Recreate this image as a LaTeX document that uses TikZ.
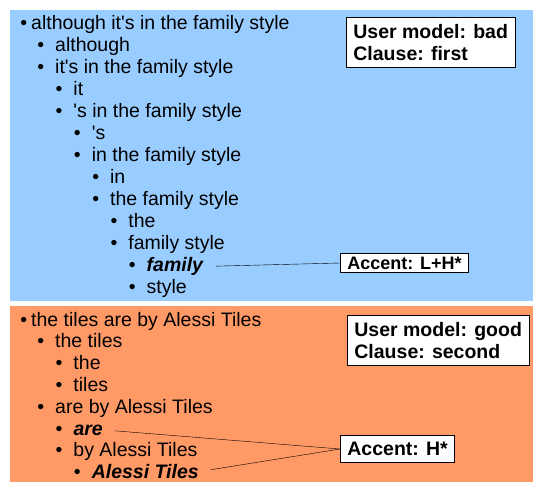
\documentclass[tikz,border=0pt]{standalone}
\usepackage{fontspec}
\setmainfont{Liberation Sans}
\usetikzlibrary{positioning}
\definecolor{skyblue}{RGB}{153,204,255}
\definecolor{salmon}{RGB}{255,153,102}
\begin{document}
\begin{tikzpicture}[x=1pt, y=-1pt, font=\fontsize{19.5}{22}\selectfont, item/.style={anchor=base west, inner sep=0pt}, note/.style={draw, fill=white, line width=0.8pt, font=\fontsize{19.5}{22}\selectfont\bfseries, align=left, inner xsep=7pt, inner ysep=6pt}]
\useasboundingbox (0,0) rectangle (533,482);
\fill[skyblue] (10,10) rectangle (533,301);
\fill[salmon] (10,306) rectangle (533,482);
\foreach \lev/\txt [count=\i from 0] in {0/although it\textquotesingle s in the family style, 1/although, 1/it\textquotesingle s in the family style, 2/it, 2/\textquotesingle s in the family style, 3/\textquotesingle s, 3/in the family style, 4/in, 4/the family style, 5/the, 5/family style, 6/\textbf{\textit{family}}, 6/style}{\pgfmathsetmacro\tx{\lev==0 ? 31 : 36.7+18.3*\lev}\pgfmathsetmacro\gap{\lev==0 ? 4 : 11}\node[item] (t\i) at (\tx,29.5+22*\i) {\llap{\textbullet\hskip\gap pt}\txt};}
\foreach \lev/\txt [count=\i from 0] in {0/the tiles are by Alessi Tiles, 1/the tiles, 2/the, 2/tiles, 1/are by Alessi Tiles, 2/\textbf{\textit{are}}, 2/by Alessi Tiles, 3/\textbf{\textit{Alessi Tiles}}}{\pgfmathsetmacro\tx{\lev==0 ? 31 : 36.7+18.3*\lev}\pgfmathsetmacro\gap{\lev==0 ? 4 : 11}\node[item] (b\i) at (\tx,326+21.8*\i) {\llap{\textbullet\hskip\gap pt}\txt};}
\node[note, anchor=north west, inner ysep=7pt] (userA) at (346,17) {User model: bad\\Clause: first};
\node[note, anchor=north west, inner ysep=7pt] (userB) at (347,315) {User model: good\\Clause: second};
\node[note, anchor=west, font=\fontsize{18}{20}\selectfont\bfseries, inner ysep=3pt] (accA) at (340,263) {Accent: L+H*};
\node[note, anchor=west, inner ysep=7pt] (accB) at (340,449) {Accent: H*};
\draw[shorten <=12pt] (t11.east) -- (accA.west);
\draw[shorten <=12pt] (b5.east) -- (accB.west);
\draw[shorten <=12pt] (b7.east) -- (accB.west);
\end{tikzpicture}
\end{document}
